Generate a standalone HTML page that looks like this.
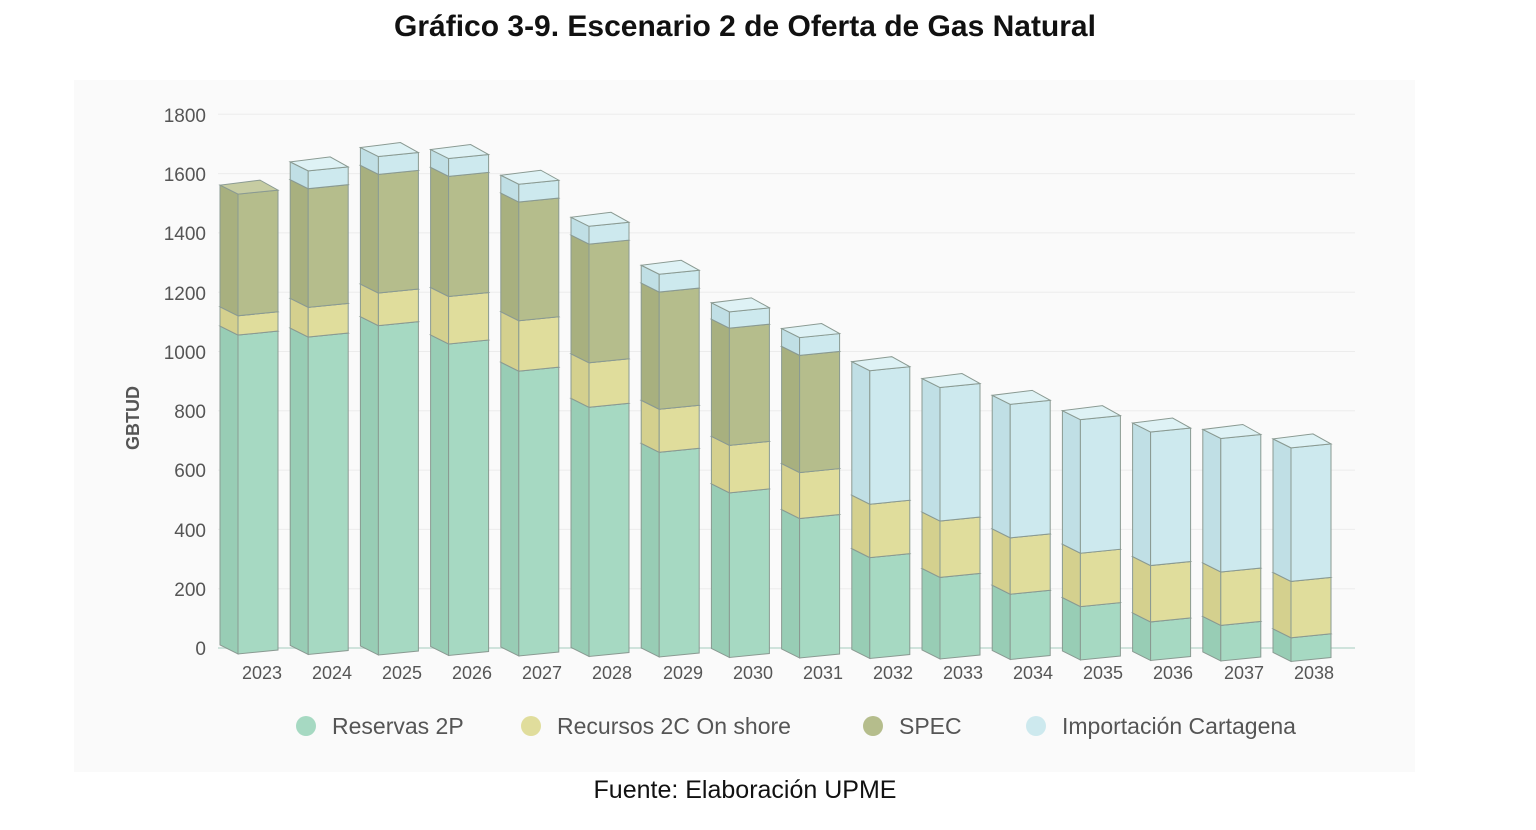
<!DOCTYPE html>
<html><head><meta charset="utf-8">
<style>
html,body{margin:0;padding:0;background:#fff;}
body{width:1536px;height:830px;position:relative;overflow:hidden;font-family:"Liberation Sans",sans-serif;}
#title{position:absolute;top:10px;left:0;width:1490px;text-align:center;font-weight:bold;font-size:30px;color:#111;}
#src{position:absolute;top:776px;left:0;width:1490px;text-align:center;font-size:25px;color:#111;}
#panel{position:absolute;left:74px;top:80px;width:1341px;height:692px;background:#fafafa;}
svg{position:absolute;left:0;top:0;}
</style></head><body>
<div id="title">Gráfico 3-9. Escenario 2 de Oferta de Gas Natural</div>
<div id="panel"></div>
<svg width="1536" height="830" id="s">
<g font-family="Liberation Sans, sans-serif" font-size="19" fill="#555" text-anchor="end">
<text x="206" y="655">0</text><text x="206" y="596">200</text><text x="206" y="537">400</text>
<text x="206" y="477">600</text><text x="206" y="418">800</text><text x="206" y="359">1000</text>
<text x="206" y="300">1200</text><text x="206" y="240">1400</text><text x="206" y="181">1600</text>
<text x="206" y="122">1800</text>
</g>
<text transform="translate(139,418) rotate(-90)" font-family="Liberation Sans, sans-serif" font-size="18" font-weight="bold" fill="#555" text-anchor="middle">GBTUD</text>
<g id="grid"></g><g id="bars"></g>
<g font-family="Liberation Sans, sans-serif" font-size="18" fill="#555" text-anchor="middle">
<text x="262" y="679">2023</text><text x="332" y="679">2024</text><text x="402" y="679">2025</text><text x="472" y="679">2026</text>
<text x="542" y="679">2027</text><text x="612" y="679">2028</text><text x="683" y="679">2029</text><text x="753" y="679">2030</text>
<text x="823" y="679">2031</text><text x="893" y="679">2032</text><text x="963" y="679">2033</text><text x="1033" y="679">2034</text>
<text x="1103" y="679">2035</text><text x="1173" y="679">2036</text><text x="1244" y="679">2037</text><text x="1314" y="679">2038</text>
</g>
<g font-family="Liberation Sans, sans-serif" font-size="23" fill="#555">
<circle cx="306" cy="726" r="10" fill="#a6d9c2"/><text x="332" y="734">Reservas 2P</text>
<circle cx="531" cy="726" r="10" fill="#e0dd9c"/><text x="557" y="734">Recursos 2C On shore</text>
<circle cx="873" cy="726" r="10" fill="#b5bd8c"/><text x="899" y="734">SPEC</text>
<circle cx="1036" cy="726" r="10" fill="#cde9ee"/><text x="1062" y="734">Importación Cartagena</text>
</g>
</svg>
<div id="src">Fuente: Elaboración UPME</div>
<script>
var NS="http://www.w3.org/2000/svg";
function el(p,t,a){var e=document.createElementNS(NS,t);for(var k in a)e.setAttribute(k,a[k]);p.appendChild(e);return e;}
var g=document.getElementById('grid');
for(var i=0;i<=9;i++){var y=648-i*59.3;el(g,'line',{x1:218,x2:1355,y1:y,y2:y,stroke:i==0?'#cfe3dc':'#ececec','stroke-width':i==0?2:1});}
var data=[[1075,1140,1550,0],[1070,1170,1570,1630],[1110,1220,1620,1680],[1050,1210,1615,1675],[960,1130,1530,1590],[840,990,1390,1450],[690,835,1230,1290],[555,715,1110,1165],[470,625,1020,1080],[340,520,0,970],[275,465,0,915],[220,410,0,860],[180,360,0,810],[130,320,0,770],[120,300,0,750],[80,270,0,720]];
var cols=[['#a6d9c2','#98cdb5','#b8e3cf'],['#e0dd9c','#d4d08e','#ebe8b4'],['#b5bd8c','#a8b07f','#c6cca2'],['#cde9ee','#c0dfe5','#def2f5']];
var b=document.getElementById('bars');var k=0.2967;
data.forEach(function(d,i){
 var x0=220+i*70.2,x1=x0+58,xm=x0+18,base=645+i*0.5;
 var prev=0;
 for(var s=0;s<4;s++){
  if(!d[s])continue;
  var yb=base-prev*k,yt=base-d[s]*k;prev=d[s];
  var c=cols[s],st='#8a9a92';
  el(b,'polygon',{points:[x0,yt,xm,yt+9,xm,yb+9,x0,yb].join(' '),fill:c[1],stroke:st,'stroke-width':1});
  el(b,'polygon',{points:[xm,yt+9,x1,yt+5,x1,yb+5,xm,yb+9].join(' '),fill:c[0],stroke:st,'stroke-width':1});
  el(b,'polygon',{points:[x0,yt,xm,yt+9,x1,yt+5,x0+40,yt-5].join(' '),fill:c[2],stroke:st,'stroke-width':1});
 }
});
</script>
</body></html>
